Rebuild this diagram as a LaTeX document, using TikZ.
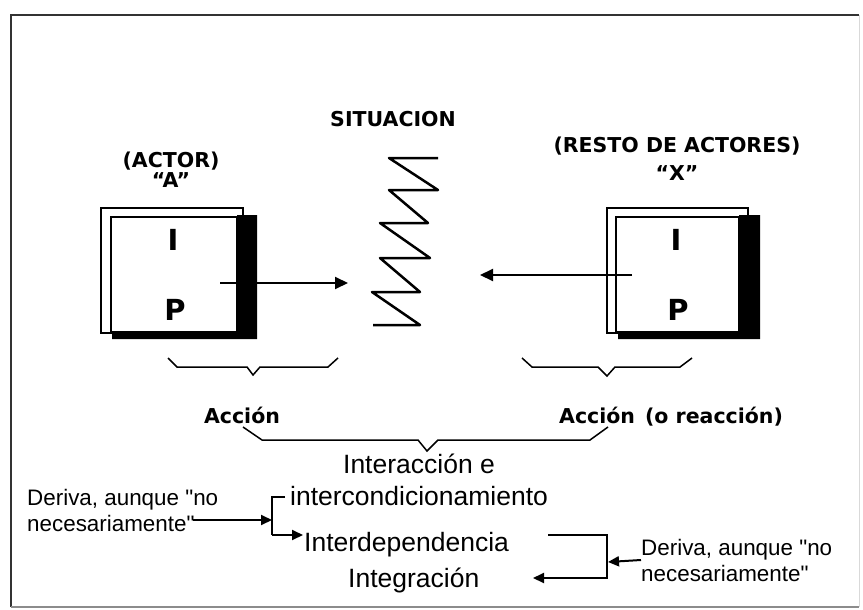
\documentclass[tikz,border=0pt]{standalone}
\usepackage{fontspec}
\setmainfont{Liberation Sans}
\newfontfamily\labfont{DejaVu Sans}
\newfontfamily\notafont{Liberation Sans}
\usepackage{tikz}
\usetikzlibrary{arrows.meta}

\tikzset{
  lab/.style={font=\labfont\bfseries\fontsize{20.5}{24}\selectfont, inner sep=0pt, anchor=base},
  letra/.style={font=\labfont\bfseries\fontsize{29}{34}\selectfont, inner sep=0pt, anchor=base},
  texto/.style={font=\fontsize{26.5}{30}\selectfont, inner sep=0pt, anchor=base west},
  nota/.style={font=\notafont\fontsize{22.4}{26}\selectfont, inner sep=0pt, align=left, anchor=west},
  linea/.style={line width=2pt},
  flecha/.style={line width=2pt, -{Triangle[length=13pt,width=12pt]}},
  flechita/.style={line width=2pt, -{Triangle[length=11pt,width=10pt]}},
  llave/.style={line width=1.5pt},
}

\begin{document}
\begin{tikzpicture}[x=1pt,y=-1pt]
            \useasboundingbox (0,0) rectangle (863,610);
            \fill[white] (0,0) rectangle (863,610);
            \draw[line width=2.5pt, black!80] (11,607) -- (11,15) -- (859,15);
            \draw[line width=1.5pt, black!45] (11,607) -- (859,607);
            \draw[line width=1pt, black!15] (859,15) -- (859,607);

            \node[lab] (situacion) at (393,127) {SITUACION};
            \node[lab] (actor) at (171,167) {(ACTOR)};
            \node[lab] (actorA) at (171,187) {“A”};
            \node[lab] (resto) at (677,152) {(RESTO DE ACTORES)};
            \node[lab] (restoX) at (677,180) {“X”};

            \draw[linea, fill=white] (101,208) rectangle (243,333);
            \fill (237,215) -- (257,215) -- (257,339) -- (112,339) -- (112,332) -- (237,332) -- cycle;
            \draw[linea, fill=white] (111,217) rectangle (237,332);
            \node[letra] (IA) at (173,250) {I};
            \node[letra] (PA) at (175,320) {P};

            \draw[linea, fill=white] (607,208) rectangle (748,333);
            \fill (739,215) -- (760,215) -- (760,339) -- (618,339) -- (618,332) -- (739,332) -- cycle;
            \draw[linea, fill=white] (616,217) rectangle (739,332);
            \node[letra] (IX) at (676,250) {I};
            \node[letra] (PX) at (678,320) {P};

            \draw[line width=2.5pt, line join=round] (438,158) -- (389,158) -- (438,190) -- (389,190) -- (428,223) -- (380,223)
                -- (430,258) -- (380,258) -- (420,292) -- (372,292) -- (420,325) -- (373,325);

            \coordinate (salidaA) at (220,283);
            \coordinate (llegadaA) at (348,283);
            \draw[flecha] (salidaA) -- (llegadaA);
            \coordinate (salidaX) at (632,275);
            \coordinate (llegadaX) at (480,275);
            \draw[flecha] (salidaX) -- (llegadaX);

            \draw[llave] (168,358) -- (177,367) -- (247,367) -- (253,375) -- (260,367) -- (328,367) -- (338,358);
            \draw[llave] (522,358) -- (532,367) -- (598,367) -- (607,376) -- (615,367) -- (680,367) -- (692,358);

            \node[lab] (accionA) at (242,423) {Acción};
            \node[lab, anchor=base west] (accionX) at (559,423) {Acción\hspace{10pt}(o reacción)};
            \draw[llave] (243,427) -- (262,440) -- (418,440) -- (427,451) -- (438,440) -- (590,440) -- (608,427);

            \node[texto, anchor=base] (interaccion) at (419,473) {Interacción e};
            \node[texto] (intercond) at (290,505) {intercondicionamiento};
            \node[texto] (interdep) at (304,551) {Interdependencia};
            \node[texto] (integ) at (348,587) {Integración};

            \node[nota] (derivaL) at (27,510) {Deriva, aunque "no\\necesariamente"};
            \node[nota] (derivaR) at (641,560) {Deriva, aunque "no\\necesariamente"};

            \coordinate (finL) at (193,520);
            \coordinate (brL) at (272,520);
            \coordinate (brLt) at (285,497);
            \coordinate (brLb) at (272,535);
            \coordinate (puntaL) at (303,535);
            \draw[flechita] (finL) -- (brL);
            \draw[linea] (brLt) -| (brLb);
            \draw[flechita] (brLb) -- (puntaL);

            \coordinate (brRt) at (548,535);
            \coordinate (brRb) at (607,578);
            \coordinate (brR) at (608,562);
            \coordinate (puntaR) at (533,578);
            \draw[flechita] (brRt) -| (brRb) -- (puntaR);
            \draw[flechita] (derivaR.west) -- (brR);
\end{tikzpicture}
\end{document}
